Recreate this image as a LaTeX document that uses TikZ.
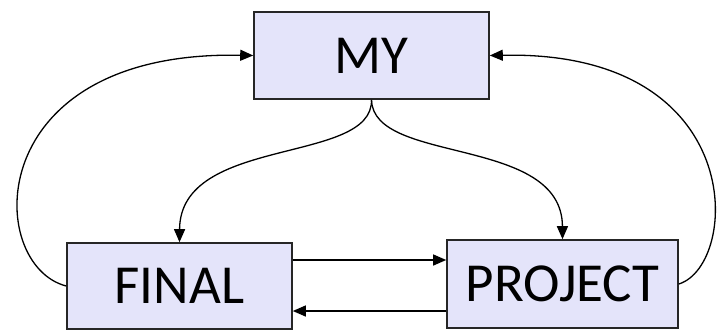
\documentclass[tikz,border=0pt]{standalone}
\usepackage{fontspec}
\setmainfont{Carlito}
\usetikzlibrary{arrows.meta}
\definecolor{boxfill}{RGB}{228,228,250}
\tikzset{
  wordbox/.style={draw=black!85, fill=boxfill, line width=1.6pt, inner sep=0pt,
    font=\fontsize{55}{60}\selectfont},
  link/.style={line width=1.3pt, -{Triangle[length=13pt,width=11pt]}}
}
\begin{document}
\begin{tikzpicture}[x=1pt,y=-1pt]
\useasboundingbox (0,0) rectangle (720,330);
\node[wordbox, minimum width=235pt, minimum height=87pt] (my) at (371.5,55.5) {MY};
\node[wordbox, minimum width=225pt, minimum height=86pt] (final) at (179.5,286) {FINAL};
\node[wordbox, minimum width=231pt, minimum height=88pt] (project) at (562.5,284) {PROJECT};
% from the top word down to the two lower words
\draw[link] (my.south) .. controls (373,165) and (180,135) .. (final.north);
\draw[link] (my.south) .. controls (373,165) and (562,135) .. (project.north);
% straight links between the lower words
\draw[link] ([yshift=26pt]final.east) -- ([yshift=24pt]project.west);
\draw[link] ([yshift=-27pt]project.west) -- ([yshift=-25pt]final.east);
% outer loops back to the top
\draw[link] (final.west) .. controls (-15,265) and (-20,50) .. (my.west);
\draw[link] (project.east) .. controls (740,265) and (750,50) .. (my.east);
\end{tikzpicture}
\end{document}
